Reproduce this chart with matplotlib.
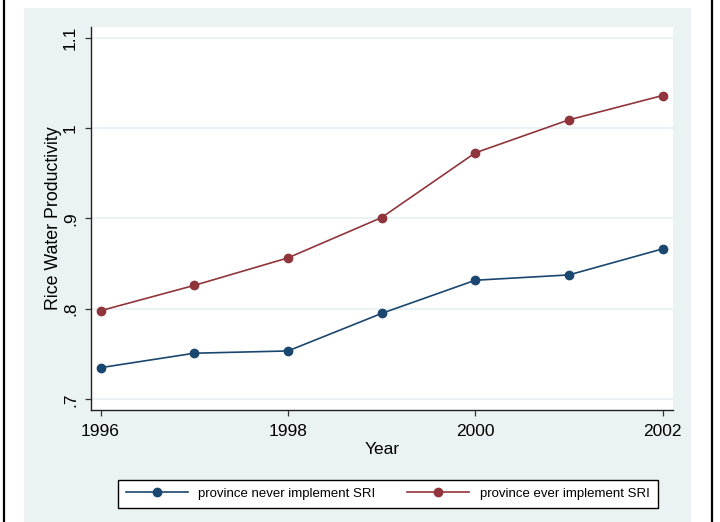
import matplotlib
matplotlib.use("Agg")
import matplotlib.pyplot as plt
from matplotlib.patches import Rectangle
from matplotlib.lines import Line2D

plt.rcParams["font.family"] = ["Liberation Sans", "DejaVu Sans"]

years = [1996, 1997, 1998, 1999, 2000, 2001, 2002]
never_sri = [0.735, 0.751, 0.7535, 0.795, 0.8317, 0.8376, 0.8664]
ever_sri = [0.798, 0.826, 0.8564, 0.901, 0.9726, 1.0091, 1.036]

y_ticks = [0.7, 0.8, 0.9, 1.0, 1.1]
y_tick_labels = [".7", ".8", ".9", "1", "1.1"]
x_ticks = [1996, 1998, 2000, 2002]

navy = "#1A476F"
maroon = "#90353B"
bg = "#EAF2F3"

W, H = 720, 522
fig = plt.figure(figsize=(W / 100, H / 100), dpi=100)
fig.patch.set_facecolor("white")

# light background panel and side rules
fig.patches.append(Rectangle((24 / W, 0), (691 - 24) / W, 1 - 8 / H,
                             transform=fig.transFigure, facecolor=bg,
                             edgecolor="none", zorder=-5))
for xp in (4, 712):
    fig.add_artist(Line2D([xp / W, xp / W], [0, 1], transform=fig.transFigure,
                          color="black", linewidth=1.6, zorder=-4))

ax = fig.add_axes([90.5 / W, 1 - 410 / H, (673.3 - 90.5) / W, (410 - 26.7) / H])
ax.set_zorder(2)
ax.set_facecolor("white")

ax.plot(years, never_sri, color=navy, linewidth=1.2, marker="o",
        markersize=6, label="province never implement SRI", zorder=3)
ax.plot(years, ever_sri, color=maroon, linewidth=1.2, marker="o",
        markersize=6, label="province ever implement SRI", zorder=3)

ax.set_xlim(1995.893, 2002.114)
ax.set_ylim(0.6882, 1.1121)

ax.set_yticks(y_ticks)
ax.set_yticklabels(y_tick_labels, rotation=90, va="center")
ax.set_xticks(x_ticks)
ax.yaxis.grid(True, color=bg, linewidth=1.4)
ax.set_axisbelow(True)

for side in ("top", "right"):
    ax.spines[side].set_visible(False)
for side in ("left", "bottom"):
    ax.spines[side].set_color("#222222")
    ax.spines[side].set_linewidth(1.0)

ax.tick_params(axis="both", direction="out", length=4, width=0.9,
               color="#333333", labelsize=12.5, pad=5)
ax.tick_params(axis="x", pad=6)

ax.set_xlabel("Year", fontsize=12.5, labelpad=2.5)
ax.set_ylabel("Rice Water Productivity", fontsize=12.8, labelpad=1)

leg = fig.legend(loc="lower left", bbox_to_anchor=(118 / W, 1 - 508 / H),
                 ncol=2, fontsize=9.5, frameon=True,
                 fancybox=False, framealpha=1, handlelength=4.7,
                 handletextpad=0.8, borderaxespad=0, borderpad=0.6,
                 columnspacing=2.4)
leg.set_zorder(3)
leg.get_frame().set_edgecolor("black")
leg.get_frame().set_linewidth(1.0)
leg.get_frame().set_facecolor("white")

fig.savefig("out.png", dpi=100, facecolor=fig.get_facecolor())
